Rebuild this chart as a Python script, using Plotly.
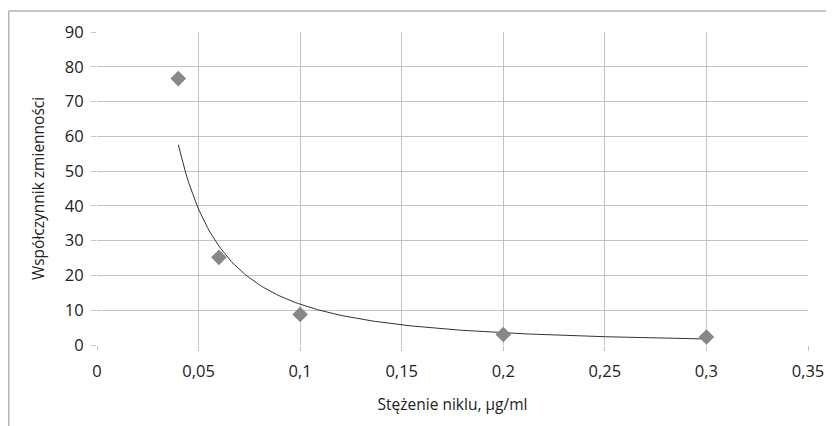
import numpy as np
import plotly.graph_objects as go

x_vals = [0.04, 0.06, 0.1, 0.2, 0.3]
y_vals = [76.6, 25.2, 8.8, 3.0, 2.3]
x_ticks = [0, 0.05, 0.1, 0.15, 0.2, 0.25, 0.3, 0.35]
y_ticks = [0, 10, 20, 30, 40, 50, 60, 70, 80, 90]

# Power trendline fitted in log-log space (like a spreadsheet power trend)
b, lna = np.polyfit(np.log(x_vals), np.log(y_vals), 1)
xt = np.linspace(min(x_vals), max(x_vals), 200)
yt = np.exp(lna) * xt ** b

fig = go.Figure()
fig.add_trace(go.Scatter(x=xt, y=yt, mode="lines",
                         line=dict(color="#333333", width=1), showlegend=False))
fig.add_trace(go.Scatter(x=x_vals, y=y_vals, mode="markers",
                         marker=dict(symbol="diamond", size=12, color="#878787"),
                         showlegend=False))

grid = "#c4c4c4"
# page body has an 8px margin, so the figure is 826x418 and offset by 8px
L, T, PW, PH = 89, 24, 711, 313
W, H = 826, 418
fig.update_layout(
    width=W, height=H,
    margin=dict(l=L, r=W - L - PW, t=T, b=H - T - PH),
    paper_bgcolor="white", plot_bgcolor="white",
    separators=", ",
    font=dict(family="Open Sans", color="#222222", size=16.5),
    xaxis=dict(range=[0, 0.35], tickvals=x_ticks, showgrid=True, gridcolor=grid,
               gridwidth=1, zeroline=False, ticks="outside", ticklen=5,
               tickcolor=grid, showline=False, automargin=False,
               ticklabelstandoff=6,
               title=dict(text="Stężenie niklu, µg/ml", font=dict(size=15.5), standoff=18)),
    yaxis=dict(range=[0, 90], tickvals=y_ticks, showgrid=True, gridcolor=grid,
               gridwidth=1, zeroline=False, ticks="outside", ticklen=5,
               tickcolor=grid, showline=False, automargin=False,
               ticklabelstandoff=4,
               title=dict(text="Współczynnik zmienności", font=dict(size=15.5), standoff=16)),
    shapes=[
        dict(type="line", xref="paper", yref="paper",
             x0=(0.75 - L) / PW, x1=(W - L) / PW,
             y0=1 + (T - 3) / PH, y1=1 + (T - 3) / PH,
             line=dict(color="#b5b5b5", width=1.5)),
        dict(type="line", xref="paper", yref="paper",
             x0=(0.75 - L) / PW, x1=(0.75 - L) / PW,
             y0=1 + (T - 3) / PH, y1=-(H - T - PH) / PH,
             line=dict(color="#b5b5b5", width=1.5)),
    ],
)

fig.write_html("out.html")
